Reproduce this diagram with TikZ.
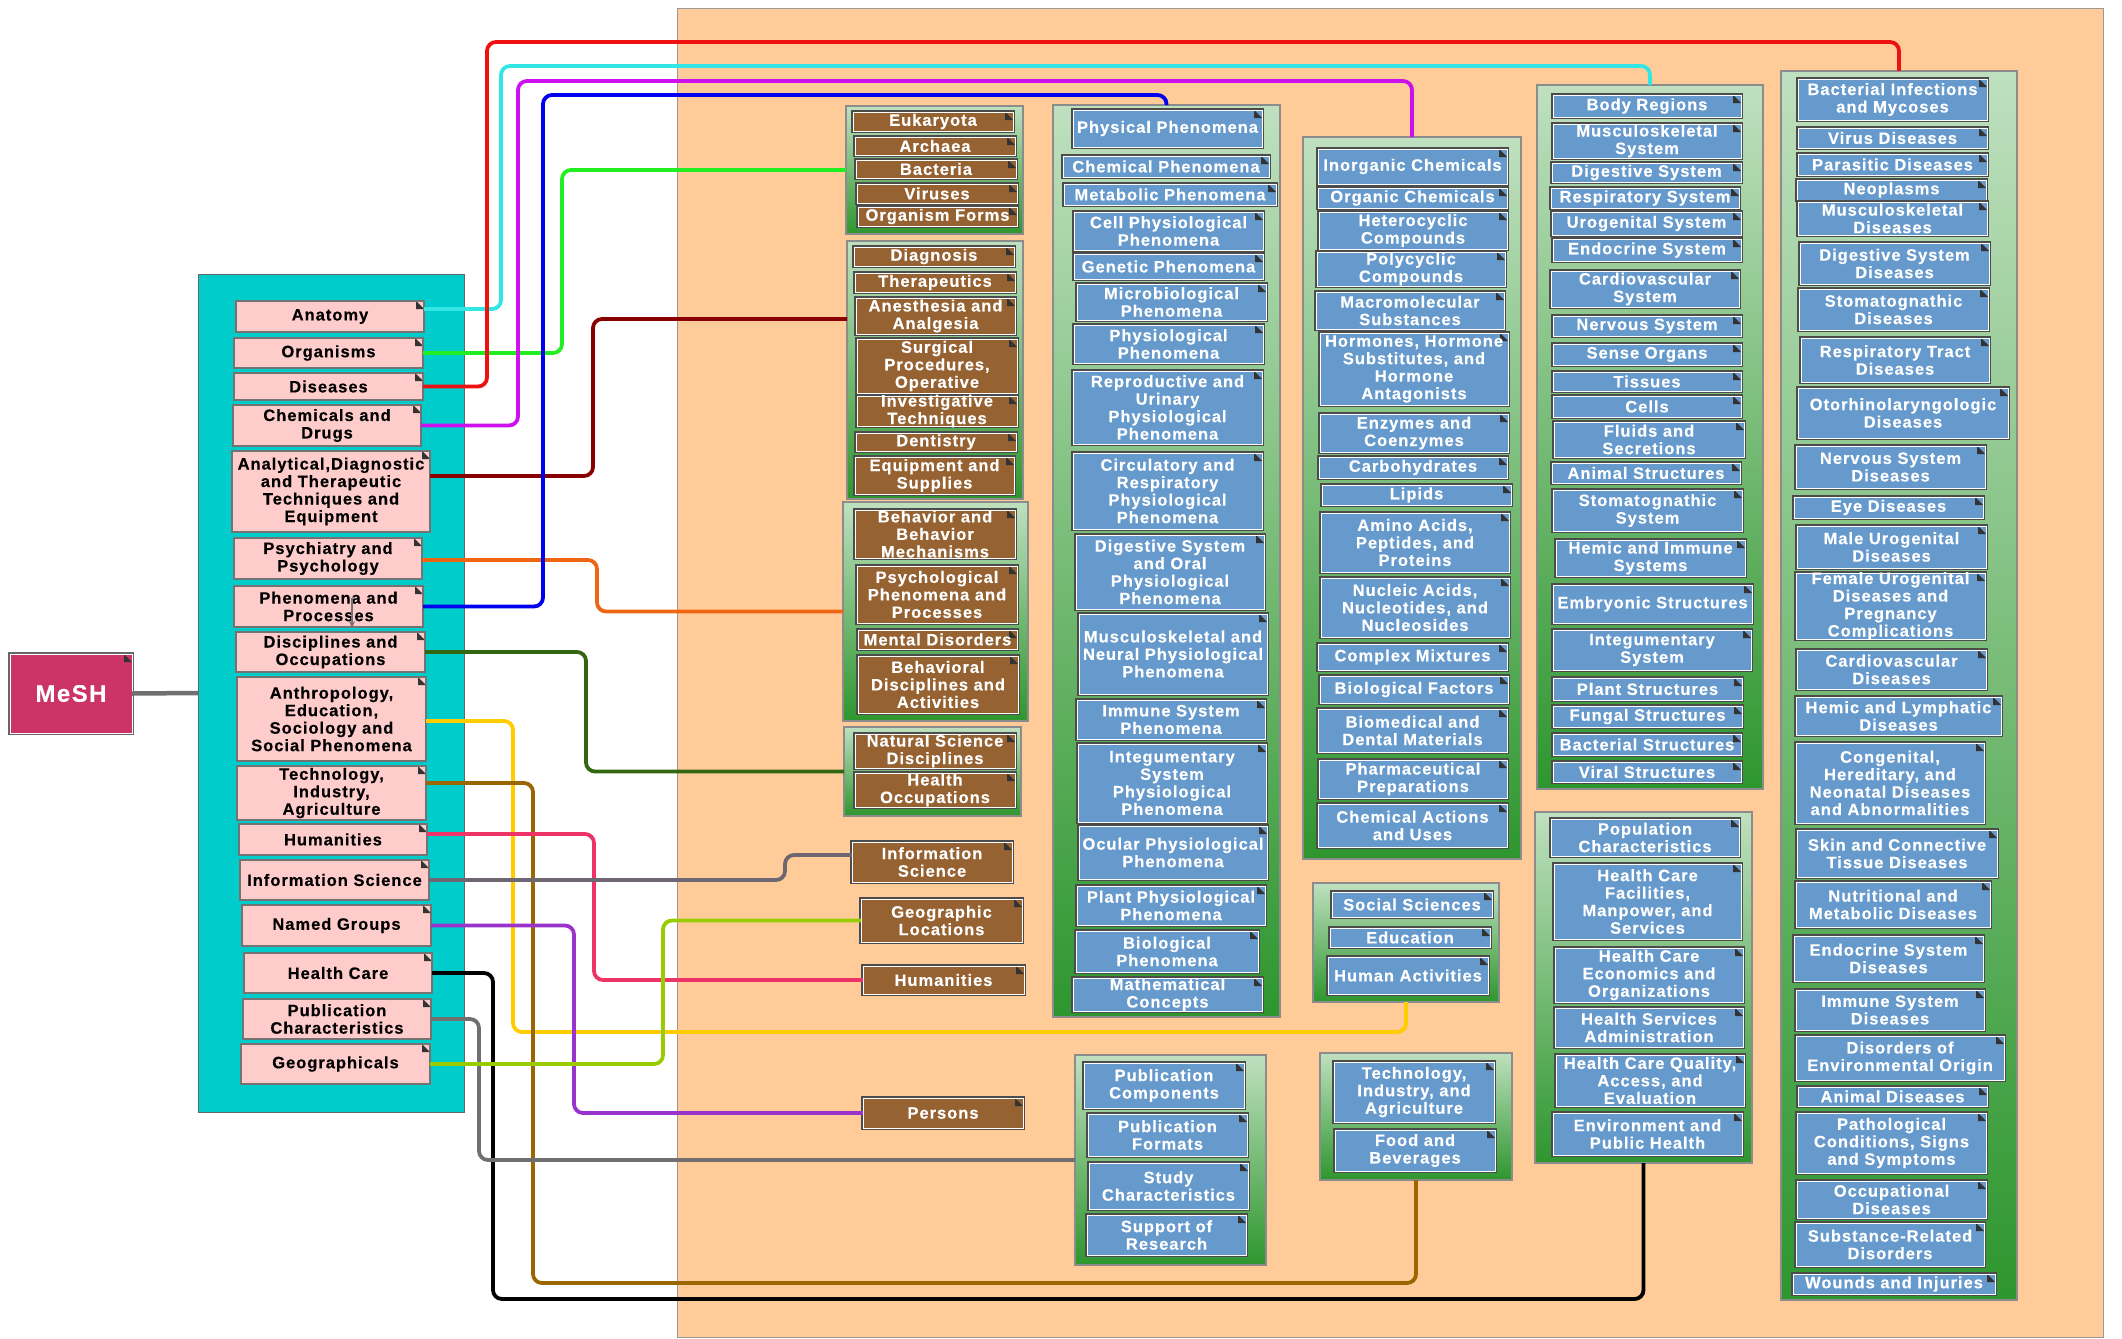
\documentclass[tikz,border=0pt]{standalone}
\usepackage{fontspec}
\newfontfamily\lsb{Liberation Sans}[LetterSpace=6, BoldFeatures={FakeBold=0.3}]
\usetikzlibrary{arrows.meta}
\definecolor{bgC}{HTML}{FFCC99}
\definecolor{tealC}{HTML}{00CCCC}
\definecolor{pinkC}{HTML}{FFCCCC}
\definecolor{brownC}{HTML}{966232}
\definecolor{blueC}{HTML}{6699CC}
\definecolor{meshC}{HTML}{CC3366}
\definecolor{grTop}{HTML}{BFE0BF}
\definecolor{grBot}{HTML}{2E962E}
\definecolor{cyanL}{HTML}{33E6E6}
\definecolor{greenL}{HTML}{22EE22}
\definecolor{redL}{HTML}{EE1111}
\definecolor{magL}{HTML}{CC11EE}
\definecolor{dredL}{HTML}{880000}
\definecolor{orangeL}{HTML}{EE6611}
\definecolor{blueL}{HTML}{0000EE}
\definecolor{dgreenL}{HTML}{336611}
\definecolor{yellowL}{HTML}{FFCC00}
\definecolor{brownL}{HTML}{996600}
\definecolor{pinkL}{HTML}{EE3366}
\definecolor{infoL}{HTML}{6E6670}
\definecolor{purpleL}{HTML}{9933CC}
\definecolor{pubL}{HTML}{707070}
\definecolor{ygreenL}{HTML}{99CC00}
\newcommand\mybox[7]{%
  \node[#6, minimum width={(#4)-(#2)}, minimum height={(#5)-(#3)}] (#1) at ({((#2)+(#4))/2},{((#3)+(#5))/2}) {};
  \node[t#6] (#1-t) at (#1.center) {#7};}
\newcommand\mygrp[5]{%
  \node[grpbox, minimum width={(#4)-(#2)}, minimum height={(#5)-(#3)}] (#1) at ({((#2)+(#4))/2},{((#3)+(#5))/2}) {};}
\begin{document}
\begin{tikzpicture}[x=1pt,y=-1pt,
  every node/.style={inner sep=0pt, outer sep=0pt},
  dog/.style={path picture={\fill[black!80] ([xshift=-8pt]path picture bounding box.north east) -- ([yshift=-8pt]path picture bounding box.north east) -- ([xshift=-8pt,yshift=-8pt]path picture bounding box.north east) -- cycle;}},
  basetxt/.style={font=\lsb\bfseries\fontsize{16.5}{17.5}\selectfont, align=center},
  pinkbox/.style={fill=pinkC, draw=black!55, line width=1.2pt, dog},
  tpinkbox/.style={basetxt, text=black},
  brownbox/.style={fill=brownC, draw=white, line width=1pt, preaction={draw=black!70, line width=3.2pt}, dog},
  tbrownbox/.style={basetxt, text=white},
  bluebox/.style={fill=blueC, draw=white, line width=1pt, preaction={draw=black!70, line width=3.2pt}, dog},
  tbluebox/.style={basetxt, text=white},
  meshbox/.style={fill=meshC, draw=white, line width=1pt, preaction={draw=black!60, line width=3.2pt}, dog},
  tmeshbox/.style={font=\lsb\bfseries\fontsize{24}{26}\selectfont, text=white},
  grpbox/.style={draw=black!45, line width=1.2pt, top color=grTop, bottom color=grBot},
  cc/.style={line width=3.8pt, rounded corners=9pt}]
\useasboundingbox (0,0) rectangle (2122,1338);
% backgrounds
\node[fill=bgC, draw=black!40, line width=1pt, minimum width=1426, minimum height=1328] (bg) at (1390,673) {};
\node[fill=tealC, draw=black!60, line width=1pt, minimum width=266, minimum height=838] (teal) at (331,693) {};
% MeSH
\mybox{mesh}{10}{654}{132}{733}{meshbox}{MeSH}
% left pink nodes
\mybox{anat}{236}{301}{424}{332}{pinkbox}{Anatomy}
\mybox{org}{234}{338}{423}{368}{pinkbox}{Organisms}
\mybox{dis}{234}{373}{423}{400}{pinkbox}{Diseases}
\mybox{chem}{233}{405}{421}{446}{pinkbox}{Chemicals and\\Drugs}
\mybox{anal}{232}{451}{430}{532}{pinkbox}{Analytical,Diagnostic\\and Therapeutic\\Techniques and\\Equipment}
\mybox{psy}{234}{538}{422}{579}{pinkbox}{Psychiatry and\\Psychology}
\mybox{phen}{234}{586}{423}{627}{pinkbox}{Phenomena and\\Processes}
\mybox{disc}{236}{632}{425}{672}{pinkbox}{Disciplines and\\Occupations}
\mybox{anth}{237}{677}{426}{761}{pinkbox}{Anthropology,\\Education,\\Sociology and\\Social Phenomena}
\mybox{tech}{237}{766}{426}{820}{pinkbox}{Technology,\\Industry,\\Agriculture}
\mybox{hum}{239}{824}{427}{855}{pinkbox}{Humanities}
\mybox{info}{240}{860}{429}{900}{pinkbox}{Information Science}
\mybox{named}{242}{905}{431}{946}{pinkbox}{Named Groups}
\mybox{hc}{244}{953}{432}{993}{pinkbox}{Health Care}
\mybox{pubc}{243}{999}{431}{1039}{pinkbox}{Publication\\Characteristics}
\mybox{geo}{241}{1044}{430}{1084}{pinkbox}{Geographicals}
% brown groups
\mygrp{gOrg}{846}{106}{1023}{234}
\mybox{eukar}{853}{112}{1013}{131}{brownbox}{Eukaryota}
\mybox{archaea}{855}{137}{1015}{155}{brownbox}{Archaea}
\mybox{bacteria}{856}{160}{1016}{178}{brownbox}{Bacteria}
\mybox{viruses}{857}{184}{1017}{203}{brownbox}{Viruses}
\mybox{orgforms}{858}{207}{1017}{226}{brownbox}{Organism Forms}
\mygrp{gAna}{847}{241}{1023}{499}
\mybox{diag}{854}{247}{1014}{266}{brownbox}{Diagnosis}
\mybox{thera}{855}{273}{1015}{292}{brownbox}{Therapeutics}
\mybox{anest}{856}{298}{1015}{334}{brownbox}{Anesthesia and\\Analgesia}
\mybox{surg}{857}{339}{1017}{393}{brownbox}{Surgical\\Procedures,\\Operative}
\mybox{invest}{857}{396}{1017}{426}{brownbox}{Investigative\\Techniques}
\mybox{dent}{856}{433}{1016}{451}{brownbox}{Dentistry}
\mybox{equip}{855}{457}{1014}{494}{brownbox}{Equipment and\\Supplies}
\mygrp{gPsy}{843}{502}{1028}{721}
\mybox{behav}{855}{510}{1015}{558}{brownbox}{Behavior and\\Behavior\\Mechanisms}
\mybox{psyph}{857}{566}{1017}{623}{brownbox}{Psychological\\Phenomena and\\Processes}
\mybox{mental}{858}{630}{1017}{649}{brownbox}{Mental Disorders}
\mybox{bdisc}{858}{656}{1018}{713}{brownbox}{Behavioral\\Disciplines and\\Activities}
\mygrp{gDisc}{844}{727}{1021}{816}
\mybox{natsci}{855}{734}{1015}{768}{brownbox}{Natural Science\\Disciplines}
\mybox{hocc}{855}{773}{1015}{807}{brownbox}{Health\\Occupations}
\mybox{infos}{852}{842}{1012}{882}{brownbox}{Information\\Science}
\mybox{geoloc}{861}{899}{1022}{942}{brownbox}{Geographic\\Locations}
\mybox{humn}{863}{966}{1024}{994}{brownbox}{Humanities}
\mybox{persons}{863}{1098}{1023}{1128}{brownbox}{Persons}
% phenomena
\mygrp{gPhys}{1053}{105}{1280}{1017}
\mybox{physph}{1073}{110}{1262}{147}{bluebox}{Physical Phenomena}
\mybox{chemph}{1063}{156}{1269}{177}{bluebox}{Chemical Phenomena}
\mybox{metab}{1064}{184}{1276}{205}{bluebox}{Metabolic Phenomena}
\mybox{cellph}{1074}{212}{1263}{250}{bluebox}{Cell Physiological\\Phenomena}
\mybox{genet}{1074}{254}{1263}{279}{bluebox}{Genetic Phenomena}
\mybox{micro}{1077}{284}{1266}{320}{bluebox}{Microbiological\\Phenomena}
\mybox{physiol}{1074}{325}{1263}{363}{bluebox}{Physiological\\Phenomena}
\mybox{repro}{1073}{371}{1262}{444}{bluebox}{Reproductive and\\Urinary\\Physiological\\Phenomena}
\mybox{circ}{1073}{453}{1262}{529}{bluebox}{Circulatory and\\Respiratory\\Physiological\\Phenomena}
\mybox{digph}{1076}{535}{1264}{609}{bluebox}{Digestive System\\and Oral\\Physiological\\Phenomena}
\mybox{musc}{1079}{614}{1267}{694}{bluebox}{Musculoskeletal and\\Neural Physiological\\Phenomena}
\mybox{immph}{1077}{700}{1265}{739}{bluebox}{Immune System\\Phenomena}
\mybox{integph}{1078}{744}{1266}{822}{bluebox}{Integumentary\\System\\Physiological\\Phenomena}
\mybox{ocul}{1079}{826}{1267}{879}{bluebox}{Ocular Physiological\\Phenomena}
\mybox{plantph}{1077}{886}{1265}{925}{bluebox}{Plant Physiological\\Phenomena}
\mybox{bioph}{1076}{931}{1258}{972}{bluebox}{Biological\\Phenomena}
\mybox{math}{1073}{978}{1262}{1011}{bluebox}{Mathematical\\Concepts}
% chemicals
\mygrp{gChem}{1303}{137}{1521}{859}
\mybox{inorg}{1318}{149}{1507}{184}{bluebox}{Inorganic Chemicals}
\mybox{organ}{1318}{188}{1507}{208}{bluebox}{Organic Chemicals}
\mybox{hetero}{1319}{212}{1507}{249}{bluebox}{Heterocyclic\\Compounds}
\mybox{polyc}{1317}{252}{1505}{286}{bluebox}{Polycyclic\\Compounds}
\mybox{macrom}{1316}{292}{1504}{329}{bluebox}{Macromolecular\\Substances}
\mybox{hormo}{1320}{333}{1508}{405}{bluebox}{Hormones, Hormone\\Substitutes, and\\Hormone\\Antagonists}
\mybox{enzy}{1320}{414}{1508}{452}{bluebox}{Enzymes and\\Coenzymes}
\mybox{carbo}{1319}{457}{1507}{478}{bluebox}{Carbohydrates}
\mybox{lipid}{1322}{485}{1511}{505}{bluebox}{Lipids}
\mybox{amino}{1321}{513}{1509}{572}{bluebox}{Amino Acids,\\Peptides, and\\Proteins}
\mybox{nucl}{1321}{578}{1509}{637}{bluebox}{Nucleic Acids,\\Nucleotides, and\\Nucleosides}
\mybox{compl}{1318}{644}{1507}{670}{bluebox}{Complex Mixtures}
\mybox{biof}{1320}{676}{1508}{703}{bluebox}{Biological Factors}
\mybox{biomed}{1318}{709}{1507}{752}{bluebox}{Biomedical and\\Dental Materials}
\mybox{pharm}{1319}{760}{1507}{798}{bluebox}{Pharmaceutical\\Preparations}
\mybox{chact}{1318}{804}{1507}{847}{bluebox}{Chemical Actions\\and Uses}
% anatomy
\mygrp{gAnat}{1537}{85}{1763}{789}
\mybox{bodyr}{1553}{95}{1741}{117}{bluebox}{Body Regions}
\mybox{muscs}{1553}{124}{1741}{158}{bluebox}{Musculoskeletal\\System}
\mybox{diges}{1552}{163}{1741}{182}{bluebox}{Digestive System}
\mybox{resp}{1551}{188}{1739}{208}{bluebox}{Respiratory System}
\mybox{urog}{1552}{212}{1741}{235}{bluebox}{Urogenital System}
\mybox{endo}{1553}{239}{1741}{261}{bluebox}{Endocrine System}
\mybox{cardio}{1551}{271}{1739}{307}{bluebox}{Cardiovascular\\System}
\mybox{nerv}{1553}{316}{1741}{336}{bluebox}{Nervous System}
\mybox{sense}{1553}{344}{1741}{365}{bluebox}{Sense Organs}
\mybox{tiss}{1553}{372}{1741}{391}{bluebox}{Tissues}
\mybox{cells}{1553}{396}{1741}{417}{bluebox}{Cells}
\mybox{fluid}{1554}{422}{1744}{457}{bluebox}{Fluids and\\Secretions}
\mybox{anims}{1552}{463}{1740}{483}{bluebox}{Animal Structures}
\mybox{stoms}{1553}{490}{1742}{531}{bluebox}{Stomatognathic\\System}
\mybox{hemic}{1556}{540}{1745}{576}{bluebox}{Hemic and Immune\\Systems}
\mybox{embr}{1553}{585}{1752}{623}{bluebox}{Embryonic Structures}
\mybox{integs}{1553}{630}{1751}{670}{bluebox}{Integumentary\\System}
\mybox{plants}{1553}{678}{1742}{700}{bluebox}{Plant Structures}
\mybox{fung}{1553}{706}{1742}{727}{bluebox}{Fungal Structures}
\mybox{bacts}{1553}{734}{1741}{755}{bluebox}{Bacterial Structures}
\mybox{virs}{1553}{762}{1741}{782}{bluebox}{Viral Structures}
% health care
\mygrp{gHC}{1535}{812}{1752}{1163}
\mybox{popc}{1551}{819}{1739}{856}{bluebox}{Population\\Characteristics}
\mybox{hcfac}{1554}{864}{1741}{939}{bluebox}{Health Care\\Facilities,\\Manpower, and\\Services}
\mybox{hcecon}{1555}{948}{1743}{1002}{bluebox}{Health Care\\Economics and\\Organizations}
\mybox{hsadm}{1555}{1008}{1743}{1047}{bluebox}{Health Services\\Administration}
\mybox{hcq}{1556}{1055}{1744}{1106}{bluebox}{Health Care Quality,\\Access, and\\Evaluation}
\mybox{envph}{1553}{1113}{1742}{1155}{bluebox}{Environment and\\Public Health}
% diseases
\mygrp{gDisease}{1781}{71}{2017}{1300}
\mybox{bact}{1798}{79}{1987}{120}{bluebox}{Bacterial Infections\\and Mycoses}
\mybox{virus}{1798}{128}{1987}{148}{bluebox}{Virus Diseases}
\mybox{paras}{1798}{154}{1987}{175}{bluebox}{Parasitic Diseases}
\mybox{neop}{1797}{180}{1986}{200}{bluebox}{Neoplasms}
\mybox{muscd}{1798}{202}{1987}{235}{bluebox}{Musculoskeletal\\Diseases}
\mybox{digd}{1800}{243}{1989}{284}{bluebox}{Digestive System\\Diseases}
\mybox{stomd}{1799}{289}{1988}{330}{bluebox}{Stomatognathic\\Diseases}
\mybox{respd}{1801}{338}{1989}{382}{bluebox}{Respiratory Tract\\Diseases}
\mybox{otor}{1798}{388}{2008}{438}{bluebox}{Otorhinolaryngologic\\Diseases}
\mybox{nervd}{1796}{446}{1985}{488}{bluebox}{Nervous System\\Diseases}
\mybox{eyed}{1794}{497}{1983}{518}{bluebox}{Eye Diseases}
\mybox{maled}{1797}{526}{1986}{568}{bluebox}{Male Urogenital\\Diseases}
\mybox{femd}{1796}{573}{1985}{639}{bluebox}{Female Urogenital\\Diseases and\\Pregnancy\\Complications}
\mybox{cardd}{1797}{650}{1986}{689}{bluebox}{Cardiovascular\\Diseases}
\mybox{hemd}{1796}{697}{2001}{735}{bluebox}{Hemic and Lymphatic\\Diseases}
\mybox{cong}{1796}{743}{1984}{823}{bluebox}{Congenital,\\Hereditary, and\\Neonatal Diseases\\and Abnormalities}
\mybox{skin}{1797}{830}{1997}{877}{bluebox}{Skin and Connective\\Tissue Diseases}
\mybox{nutr}{1796}{882}{1990}{927}{bluebox}{Nutritional and\\Metabolic Diseases}
\mybox{endod}{1794}{936}{1983}{981}{bluebox}{Endocrine System\\Diseases}
\mybox{immd}{1796}{990}{1984}{1030}{bluebox}{Immune System\\Diseases}
\mybox{envo}{1796}{1036}{2004}{1080}{bluebox}{Disorders of\\Environmental Origin}
\mybox{animd}{1798}{1087}{1987}{1106}{bluebox}{Animal Diseases}
\mybox{patho}{1797}{1113}{1986}{1173}{bluebox}{Pathological\\Conditions, Signs\\and Symptoms}
\mybox{occd}{1797}{1181}{1986}{1218}{bluebox}{Occupational\\Diseases}
\mybox{subst}{1796}{1223}{1984}{1266}{bluebox}{Substance-Related\\Disorders}
\mybox{wound}{1793}{1274}{1995}{1294}{bluebox}{Wounds and Injuries}
% social
\mygrp{gSoc}{1313}{883}{1499}{1002}
\mybox{socsci}{1332}{892}{1492}{917}{bluebox}{Social Sciences}
\mybox{educ}{1330}{928}{1490}{947}{bluebox}{Education}
\mybox{humact}{1328}{957}{1488}{994}{bluebox}{Human Activities}
% publication
\mygrp{gPub}{1075}{1055}{1266}{1265}
\mybox{pubcomp}{1084}{1063}{1244}{1108}{bluebox}{Publication\\Components}
\mybox{pubform}{1088}{1114}{1247}{1156}{bluebox}{Publication\\Formats}
\mybox{study}{1089}{1163}{1248}{1209}{bluebox}{Study\\Characteristics}
\mybox{support}{1087}{1215}{1246}{1255}{bluebox}{Support of\\Research}
% technology
\mygrp{gTech}{1320}{1053}{1512}{1180}
\mybox{techn}{1334}{1062}{1494}{1122}{bluebox}{Technology,\\Industry, and\\Agriculture}
\mybox{food}{1335}{1130}{1495}{1171}{bluebox}{Food and\\Beverages}
% connectors
\draw[line width=4.5pt, color=pubL] (mesh.east) -- (teal.west);
\draw[-{Stealth[length=7pt,width=6pt]}, line width=1.3pt, color=black!55] ([xshift=23.5pt,yshift=8.5pt]phen.center) -- ([xshift=21.5pt,yshift=4pt]disc.north);
\draw[cc, cyanL] ([yshift=7.5pt]anat.east) -| (501,66) -| (gAnat.north);
\draw[cc, greenL] (org.east) -| ([xshift=-284pt]gOrg.west) -- (gOrg.west);
\draw[cc, redL] (dis.east) -| (487,42) -| (gDisease.north);
\draw[cc, magL] (chem.east) -| (518,81) -| (gChem.north);
\draw[cc, dredL] ([yshift=15.5pt]anal.east) -| ([xshift=-254pt,yshift=51pt]gAna.west) -- ([yshift=51pt]gAna.west);
\draw[cc, orangeL] ([yshift=-1.5pt]psy.east) -| ([xshift=-246pt]gPsy.west) -- (gPsy.west);
\draw[cc, blueL] (phen.east) -| (543,95) -| (gPhys.north);
\draw[cc, dgreenL] (disc.east) -| ([xshift=-258pt]gDisc.west) -- (gDisc.west);
\draw[cc, yellowL] ([yshift=-2pt]anth.east) -| (513,1032) -| (gSoc.south);
\draw[cc, brownL] ([yshift=10pt]tech.east) -| (533,1283) -| (gTech.south);
\draw[cc, pinkL] ([yshift=5.5pt]hum.east) -| ([xshift=-269pt]humn.west) -- (humn.west);
\draw[cc, infoL] (info.east) -| ([xshift=-67pt,yshift=7pt]infos.west) -- ([yshift=7pt]infos.west);
\draw[cc, purpleL] (named.east) -| ([xshift=-289pt]persons.west) -- (persons.west);
\draw[cc, black] (hc.east) -| (493,1299) -| (gHC.south);
\draw[cc, pubL] (pubc.east) -| ([xshift=-596pt]gPub.west) -- (gPub.west);
\draw[cc, ygreenL] (geo.east) -| ([xshift=-198pt]geoloc.west) -- (geoloc.west);
\end{tikzpicture}
\end{document}
